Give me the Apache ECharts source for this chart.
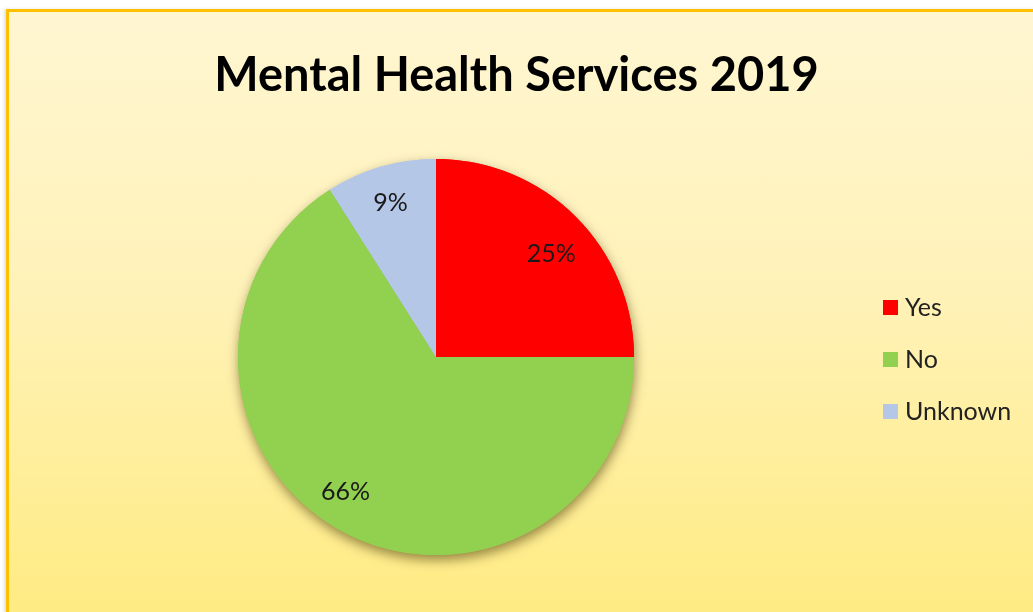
<!DOCTYPE html>
<html>
<head>
<meta charset="utf-8">
<script src="https://cdn.jsdelivr.net/npm/echarts@6/dist/echarts.min.js"></script>
<style>
  html, body { margin: 0; padding: 0; background: #ffffff; width: 1033px; height: 612px; overflow: hidden; }
  #frame { position: absolute; left: 6px; top: 9px; width: 1040px; height: 620px;
    border-top: 3px solid #FFC000; border-left: 3px solid #FFC000;
    background: linear-gradient(to bottom, #FFF6D2 0%, #FFF2B8 45%, #FFEB80 100%);
    box-shadow: -2px 0 3px rgba(0,0,0,0.12); }
  #chart { position: absolute; left: 0; top: 0; width: 1033px; height: 612px; }
</style>
</head>
<body>
<div id="frame"></div>
<div id="chart"></div>
<script>
const titleText = 'Mental Health Services 2019';
const categories = ['Yes', 'No', 'Unknown'];
const values = [25, 66, 9];
const colors = ['#FF0000', '#92D050', '#B4C7E7'];
// label nudges (styling only)
const labelNudges = [[0, 12], [-12, -8], [0, 2]];

const data = categories.map((c, i) => ({ name: c, value: values[i], itemStyle: { color: colors[i] } }));

const chart = echarts.init(document.getElementById('chart'), null, { renderer: 'canvas' });
chart.setOption({
  backgroundColor: 'transparent',
  animation: false,
  title: {
    text: titleText,
    left: 'center',
    top: 47,
    textStyle: { fontFamily: 'Lato', fontWeight: 'bold', fontSize: 47, color: '#000000' }
  },
  legend: {
    orient: 'vertical',
    left: 878,
    top: 290,
    itemWidth: 15,
    itemHeight: 15,
    itemGap: 27,
    icon: 'rect',
    data: categories,
    textStyle: { fontFamily: 'Lato', fontSize: 25, color: '#222222', lineHeight: 24, padding: [0, 0, 0, 2] }
  },
  series: [
    {
      type: 'pie',
      name: 'shadow',
      silent: true,
      center: [436, 357],
      radius: [0, 198],
      startAngle: 90,
      clockwise: true,
      label: { show: false },
      labelLine: { show: false },
      itemStyle: { shadowBlur: 12, shadowColor: 'rgba(60,50,0,0.55)', shadowOffsetY: 5, shadowOffsetX: 1 },
      legendHoverLink: false,
      data: data,
      z: 1
    },
    {
      type: 'pie',
      name: 'Mental Health Services',
      center: [436, 357],
      radius: [0, 198],
      startAngle: 90,
      clockwise: true,
      label: { show: false },
      labelLine: { show: false },
      itemStyle: { borderWidth: 0 },
      data: data,
      z: 2
    },
    {
      type: 'pie',
      name: 'labels',
      silent: true,
      center: [436, 357],
      radius: [124, 196],
      startAngle: 90,
      clockwise: true,
      itemStyle: { color: 'transparent' },
      label: { show: true, position: 'inside', formatter: '{d}%', fontFamily: 'Lato', fontSize: 25, color: '#1a1a1a' },
      labelLine: { show: false },
      data: categories.map((c, i) => ({ name: c, value: values[i], label: { offset: labelNudges[i] } })),
      z: 3
    }
  ]
});
</script>
</body>
</html>
